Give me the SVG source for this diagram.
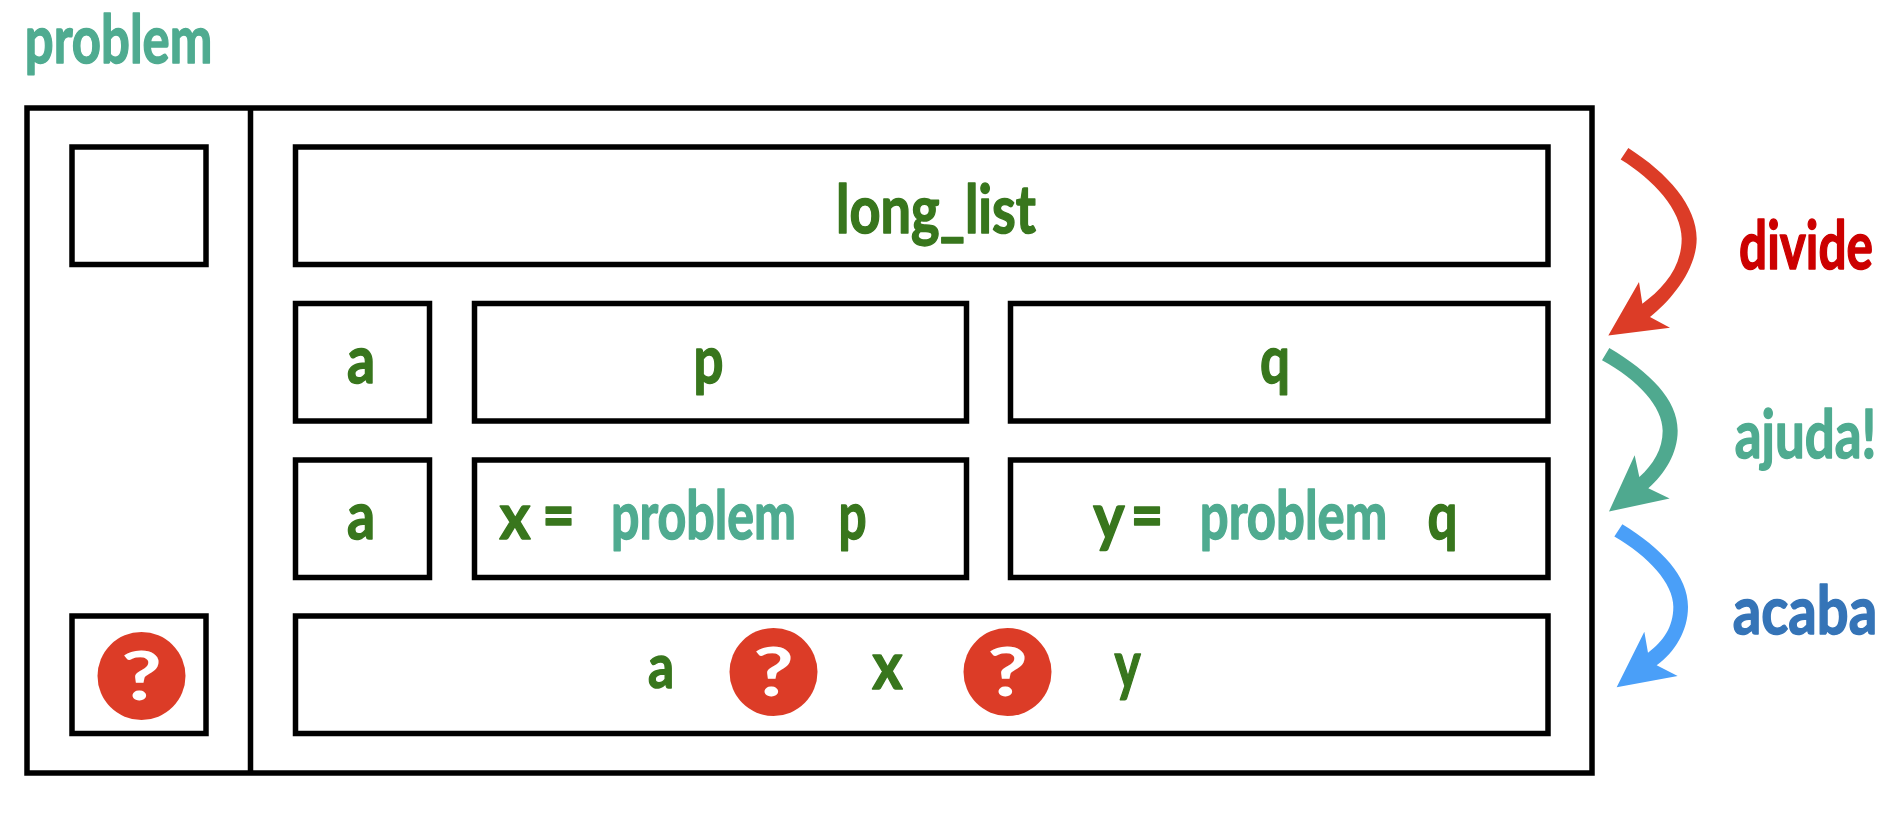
<svg xmlns="http://www.w3.org/2000/svg" width="1902" height="814" viewBox="0 0 1902 814">
<style>
rect{fill:none;stroke:#000;stroke-width:5.5}
text{font-family:"Lato","Noto Sans",sans-serif;font-weight:700;font-size:66px;text-anchor:middle;stroke-width:1.5;stroke-linejoin:round}
.d{fill:#38761d;stroke:#38761d}
.t{fill:#4fab90;stroke:#4fab90}
.r{fill:#cc0000;stroke:#cc0000}
.b{fill:#3574b7;stroke:#3574b7}
.w{fill:#fff}
circle{fill:#dc3c27}
</style>
<g id="title"><text class="t" transform="translate(118.500 63) scale(.77 1)">problem</text></g>
<g id="frame"><rect x="27" y="108" width="1565" height="665"/><path d="M250.500 108V773" fill="none" stroke="#000" stroke-width="5.500"/></g>
<g id="box-empty"><rect x="72" y="147" width="134" height="117.500"/></g>
<g id="box-long-list"><rect x="295.500" y="147" width="1252.500" height="117.500"/><text class="d" transform="translate(936 233) scale(.82 1)">long_list</text></g>
<g id="box-a1"><rect x="295.500" y="303.500" width="134" height="117.500"/><text class="d" transform="translate(361 382.500) scale(.84 1)">a</text></g>
<g id="box-p"><rect x="474.500" y="303.500" width="492" height="117.500"/><text class="d" transform="translate(708.500 382.500) scale(.8 1)">p</text></g>
<g id="box-q"><rect x="1010.500" y="303.500" width="537.500" height="117.500"/><text class="d" transform="translate(1275 382.500) scale(.8 1)">q</text></g>
<g id="box-a2"><rect x="295.500" y="460" width="134" height="117.500"/><text class="d" transform="translate(361 539) scale(.84 1)">a</text></g>
<g id="box-x"><rect x="474.500" y="460" width="492" height="117.500"/>
<text class="d" transform="translate(515 539) scale(.9 1)">x</text>
<text class="d" transform="translate(558.500 539) scale(.85 1)">=</text>
<text class="t" transform="translate(703.500 539) scale(.76 1)">problem</text>
<text class="d" transform="translate(852.500 539) scale(.75 1)">p</text></g>
<g id="box-y"><rect x="1010.500" y="460" width="537.500" height="117.500"/>
<text class="d" transform="translate(1109 539) scale(.9 1)">y</text>
<text class="d" transform="translate(1147 539) scale(.85 1)">=</text>
<text class="t" transform="translate(1293.500 539) scale(.77 1)">problem</text>
<text class="d" transform="translate(1442.500 539) scale(.8 1)">q</text></g>
<g id="box-result"><rect x="72" y="616" width="134" height="117.500"/><circle cx="141.500" cy="676" r="44"/><text class="w" style="stroke:none" transform="translate(141.500 700) scale(1.35 1)">?</text></g>
<g id="box-expr"><rect x="295.500" y="616" width="1252.500" height="117.500"/>
<text class="d" transform="translate(661 688) scale(.78 .92)">a</text>
<circle cx="773.500" cy="672" r="44"/><text class="w" style="stroke:none" transform="translate(773.500 696) scale(1.35 1)">?</text>
<text class="d" transform="translate(887.500 689) scale(.88 1)">x</text>
<circle cx="1007.500" cy="672" r="44"/><text class="w" style="stroke:none" transform="translate(1007.500 696) scale(1.35 1)">?</text>
<text class="d" transform="translate(1127.500 688) scale(.75 1)">y</text></g>
<g id="connectors" transform="translate(1560 120) scale(.33333 .38271)">
<path fill="#dc3c27" d="M205 73C325 140 410 225 410 310C410 390 335 470 270 515L330 543L145 563L237 423L247 480C310 440 365 385 365 310C365 235 280 155 182 103Z"/>
<path fill="#4fa98f" d="M148 596C270 660 353 730 353 812C353 870 315 925 265 962L329 989L147 1023L224 876L238 933C280 900 308 860 308 812C308 750 235 680 126 628Z"/>
<path fill="#4a9ff8" d="M187 1056C305 1120 384 1190 384 1272C384 1335 345 1390 290 1425L353 1453L170 1482L253 1337L264 1392C310 1362 340 1325 340 1272C340 1210 265 1140 163 1088Z"/>
</g>
<g id="label-divide"><text class="r" transform="translate(1806 269) scale(.75 1)">divide</text></g>
<g id="label-ajuda"><text class="t" transform="translate(1805.500 458) scale(.8 1)">ajuda!</text></g>
<g id="label-acaba"><text class="b" transform="translate(1805 634) scale(.85 1)">acaba</text></g>
</svg>
